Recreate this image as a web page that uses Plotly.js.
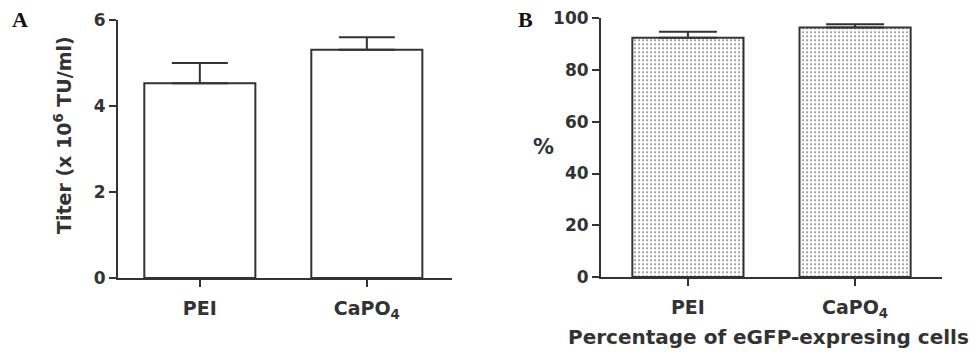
<!DOCTYPE html>
<html>
<head>
<meta charset="utf-8">
<script src="https://cdn.plot.ly/plotly-3.0.1.min.js"></script>
<style>html,body{margin:0;padding:0;background:#fff;}#chart{width:976px;height:355px;}</style>
</head>
<body>
<div id="chart"></div>
<script>
const categories = ["PEI", "CaPO<sub>4</sub>"];
const titer = [4.53, 5.31];
const titerErr = [0.47, 0.29];
const pct = [92.5, 96.4];
const pctErr = [2.3, 1.3];
const titerTicks = [0, 2, 4, 6];
const pctTicks = [0, 20, 40, 60, 80, 100];

const W = 976, H = 355;
const ink = "#333333";
const fam = "DejaVu Sans, Verdana, sans-serif";
const tickFont = {family: fam, size: 17, color: ink, weight: "bold"};
const catFont = {family: fam, size: 19, color: ink, weight: "bold"};

const traces = [
  {
    type: "bar", x: [0, 1], y: titer, width: 0.665,
    xaxis: "x", yaxis: "y",
    marker: {color: "#ffffff", line: {color: ink, width: 2}},
    error_y: {type: "data", array: titerErr, arrayminus: [0, 0], symmetric: false, color: ink, thickness: 2, width: 28},
    hoverinfo: "skip"
  },
  {
    type: "bar", x: [0, 1], y: pct, width: 0.665,
    xaxis: "x2", yaxis: "y2",
    marker: {color: "#ffffff", line: {color: ink, width: 2},
             pattern: {shape: ".", size: 4, solidity: 0.2, fgcolor: "#8a8a8a", bgcolor: "#ffffff"}},
    error_y: {type: "data", array: pctErr, arrayminus: [0, 0], symmetric: false, color: ink, thickness: 2, width: 29},
    hoverinfo: "skip"
  }
];

function xAx(domain, range, anchor) {
  return {
    domain: domain, range: range, anchor: anchor, showline: true, linecolor: ink, linewidth: 2,
    ticks: "outside", ticklen: 7, tickwidth: 2, tickcolor: ink,
    tickvals: [0, 1], ticktext: categories, tickfont: catFont,
    showgrid: false, zeroline: false, fixedrange: true, ticklabelstandoff: 5
  };
}
function yAx(domain, range, ticks, anchor) {
  return {
    domain: domain, range: range, anchor: anchor, showline: true, linecolor: ink, linewidth: 2,
    ticks: "outside", ticklen: 7, tickwidth: 2, tickcolor: ink,
    tickvals: ticks, tickfont: tickFont,
    showgrid: false, zeroline: false, fixedrange: true
  };
}

function note(text, x, y, font, extra) {
  return Object.assign({text: text, x: x / W, y: 1 - y / H, xref: "paper", yref: "paper",
    xanchor: "center", yanchor: "middle", showarrow: false, font: font}, extra || {});
}

const layout = {
  width: W, height: H,
  margin: {l: 0, r: 0, t: 0, b: 0},
  paper_bgcolor: "#ffffff", plot_bgcolor: "#ffffff",
  showlegend: false,
  xaxis: xAx([118 / W, 452 / W], [-0.49, 1.51], "y"),
  yaxis: yAx([(H - 278) / H, (H - 20) / H], [0, 6], titerTicks, "x"),
  xaxis2: xAx([601 / W, 942 / W], [-0.52, 1.52], "y2"),
  yaxis2: yAx([(H - 277) / H, (H - 18.3) / H], [0, 100], pctTicks, "x2"),
  annotations: [
    note("<b>A</b>", 20, 19, {family: "Liberation Serif, Times New Roman, serif", size: 22, color: "#111"}),
    note("<b>B</b>", 525, 19, {family: "Liberation Serif, Times New Roman, serif", size: 22, color: "#111"}),
    note("Titer (x 10<sup>6</sup> TU/ml)", 63, 135, {family: fam, size: 19, color: ink, weight: "bold"}, {textangle: -90}),
    note("%", 543, 147, {family: fam, size: 21, color: ink, weight: "bold"}),
    note("Percentage of eGFP-expresing cells", 768, 337, {family: fam, size: 20, color: ink, weight: "bold"})
  ]
};

Plotly.newPlot("chart", traces, layout, {displayModeBar: false, staticPlot: true});
</script>
</body>
</html>
